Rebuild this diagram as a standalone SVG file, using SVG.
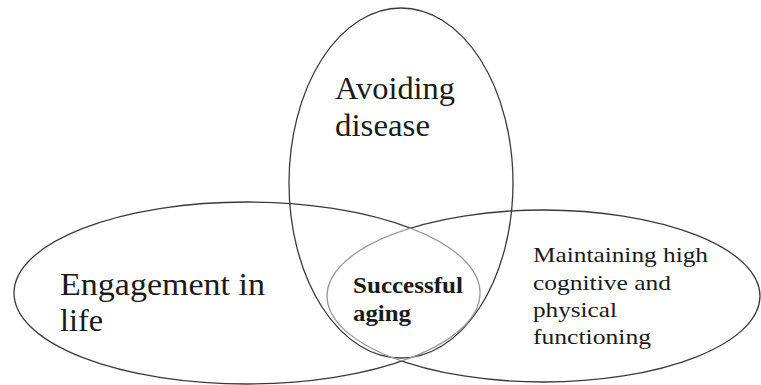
<svg xmlns="http://www.w3.org/2000/svg" width="761" height="385" viewBox="0 0 761 385">
<style>
.ring{fill:none;stroke:#3a3a3a;stroke-width:1.3}
.lite{fill:none;stroke:#9a9a9a;stroke-width:1.3}
text{fill:#1a1a1a;font-family:'Liberation Serif','Times New Roman',Times,'DejaVu Serif','Noto Serif',serif}
</style>
<defs>
<clipPath id="inR"><ellipse cx="543.5" cy="296" rx="216.5" ry="86"/></clipPath>
<clipPath id="inL"><ellipse cx="247" cy="293" rx="233" ry="91"/></clipPath>
<mask id="outR"><rect width="761" height="385" fill="#fff"/><ellipse cx="543.5" cy="296" rx="216.5" ry="86" fill="#000"/></mask>
<mask id="outL"><rect width="761" height="385" fill="#fff"/><ellipse cx="247" cy="293" rx="233" ry="91" fill="#000"/></mask>
</defs>
<rect width="761" height="385" fill="#fff"/>
<g id="avoiding-disease">
<ellipse class="ring" cx="401" cy="183" rx="112" ry="175"/>
<g font-size="32">
<text x="335" y="99" textLength="120" lengthAdjust="spacingAndGlyphs">Avoiding</text>
<text x="335" y="136" textLength="95" lengthAdjust="spacingAndGlyphs">disease</text>
</g>
</g>
<g id="engagement-in-life">
<ellipse class="ring" cx="247" cy="293" rx="233" ry="91" mask="url(#outR)"/>
<ellipse class="lite" cx="247" cy="293" rx="233" ry="91" clip-path="url(#inR)"/>
<g font-size="31">
<text x="60" y="295" textLength="205" lengthAdjust="spacingAndGlyphs">Engagement in</text>
<text x="60" y="331" textLength="43" lengthAdjust="spacingAndGlyphs">life</text>
</g>
</g>
<g id="maintaining-functioning">
<ellipse class="ring" cx="543.5" cy="296" rx="216.5" ry="86" mask="url(#outL)"/>
<ellipse class="lite" cx="543.5" cy="296" rx="216.5" ry="86" clip-path="url(#inL)"/>
<g font-size="21">
<text x="533" y="262" textLength="175" lengthAdjust="spacingAndGlyphs">Maintaining high</text>
<text x="533" y="290" textLength="138" lengthAdjust="spacingAndGlyphs">cognitive and</text>
<text x="533" y="317" textLength="84" lengthAdjust="spacingAndGlyphs">physical</text>
<text x="533" y="344" textLength="118" lengthAdjust="spacingAndGlyphs">functioning</text>
</g>
</g>
<g id="successful-aging">
<g font-size="23" font-weight="bold">
<text x="353" y="293" textLength="110" lengthAdjust="spacingAndGlyphs">Successful</text>
<text x="353" y="321" textLength="58" lengthAdjust="spacingAndGlyphs">aging</text>
</g>
</g>
<g id="connectors"></g>
</svg>
